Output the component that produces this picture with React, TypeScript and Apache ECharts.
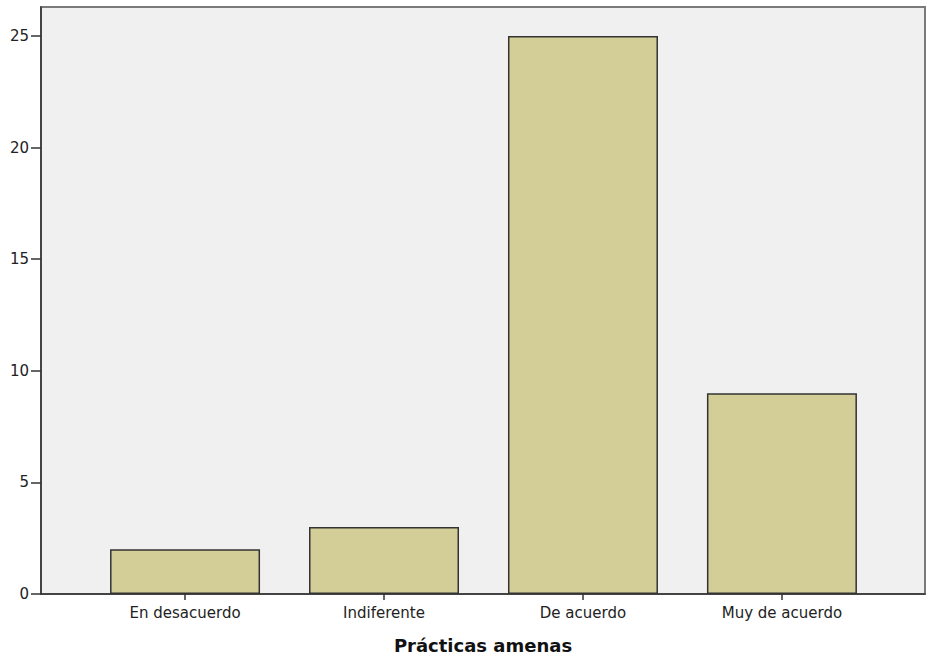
import React, { useEffect, useRef } from "react";
import * as echarts from "echarts";

const categories = ["En desacuerdo", "Indiferente", "De acuerdo", "Muy de acuerdo"];
const counts = [2, 3, 25, 9];
const xTitle = "Prácticas amenas";
const categoryIndex = [0, 1, 2, 3];

export default function App() {
  const ref = useRef<HTMLDivElement>(null);
  useEffect(() => {
    document.body.style.margin = "0";
    const chart = echarts.init(ref.current!, null, { renderer: "svg" });
    chart.setOption({
      animation: false,
      backgroundColor: "#ffffff",
      textStyle: { fontFamily: "DejaVu Sans, Liberation Sans, Arial, sans-serif" },
      grid: {
        left: 41,
        top: 7,
        right: 3,
        bottom: 65,
        outerBoundsMode: "none",
        containLabel: false,
        show: true,
        backgroundColor: "#f0f0f0",
        borderColor: "#7a7a7a",
        borderWidth: 2,
      },
      xAxis: {
        type: "value",
        min: -0.724,
        max: 3.719,
        splitLine: { show: false },
        axisLine: { show: true, onZero: false, lineStyle: { color: "#333333", width: 1.5 } },
        axisTick: {
          show: true,
          length: 6,
          customValues: categoryIndex,
          lineStyle: { color: "#333333", width: 1.5 },
        },
        axisLabel: {
          customValues: categoryIndex,
          formatter: (v: number) => categories[Math.round(v)] ?? "",
          color: "#222222",
          fontSize: 15,
          margin: 11,
        },
        name: xTitle,
        nameLocation: "middle",
        nameGap: 42,
        nameTextStyle: { fontSize: 18, fontWeight: "bold", color: "#111111" },
      },
      yAxis: {
        type: "value",
        min: 0,
        max: 26.3,
        interval: 5,
        splitLine: { show: false },
        axisLine: { show: true, onZero: false, lineStyle: { color: "#333333", width: 1.5 } },
        axisTick: { show: true, length: 10, lineStyle: { color: "#333333", width: 1.5 } },
        axisLabel: { color: "#222222", fontSize: 15, margin: 12, showMaxLabel: false },
      },
      series: [
        {
          type: "bar",
          barWidth: 150,
          data: categories.map((c, i) => [i, counts[i]]),
          itemStyle: { color: "#d3ce98", borderColor: "#333333", borderWidth: 1.5 },
        },
      ],
    });
    return () => chart.dispose();
  }, []);
  return <div ref={ref} style={{ width: 928, height: 659 }} />;
}
